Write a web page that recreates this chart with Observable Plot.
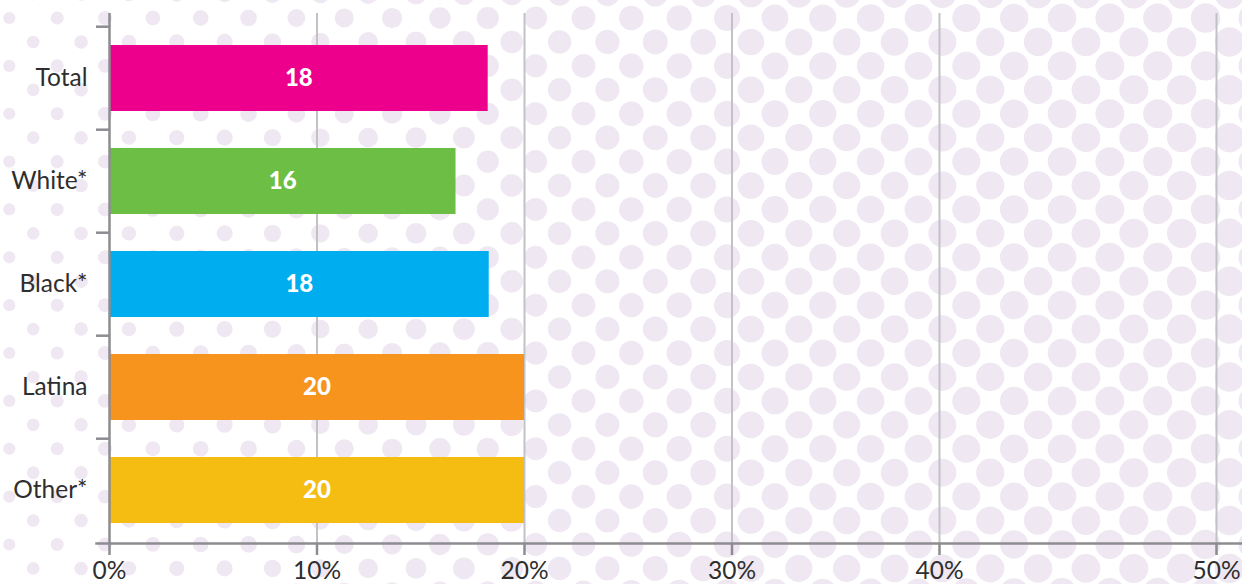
<!DOCTYPE html>
<html>
<head>
<meta charset="utf-8">
<script src="https://cdn.jsdelivr.net/npm/d3@7"></script>
<script src="https://cdn.jsdelivr.net/npm/@observablehq/plot@0.6"></script>
<style>
  html, body { margin: 0; padding: 0; background: #ffffff; }
  #wrap { position: relative; width: 1242px; height: 584px; overflow: hidden; }
  #wrap svg { position: absolute; left: 0; top: 0; }
</style>
</head>
<body>
<div id="wrap"></div>
<script>
// ---- data ----
const categories = ["Total", "White*", "Black*", "Latina", "Other*"];
const values = [18.25, 16.7, 18.3, 20, 20];
const valueLabels = ["18", "16", "18", "20", "20"];
const colors = ["#ec008c", "#6cbe45", "#00aeef", "#f7941d", "#f5bc12"];
const xTicks = [0, 10, 20, 30, 40, 50];

const data = categories.map((c, i) => ({cat: c, value: values[i], label: valueLabels[i]}));

const W = 1242, H = 584;
const wrap = document.getElementById("wrap");

// ---- decorative dot background ----
const bg = d3.create("svg").attr("width", W).attr("height", H);
const rScale = d3.scaleLinear().domain([0, 220, 440, 780, 1242]).range([6, 8, 10.7, 13.5, 14.8]).clamp(true);
const dx = 47.85, dyRow = 23.93;
const dots = [];
for (let k = -1; k < 26; k++) {
  for (let j = -1; j < 28; j++) {
    const x = 9.3 + dx * j + (Math.abs(k) % 2 === 1 ? dx / 2 : 0);
    const y = 18 + dyRow * k;
    dots.push([x, y]);
  }
}
bg.selectAll("circle").data(dots).join("circle")
  .attr("cx", d => d[0]).attr("cy", d => d[1])
  .attr("r", d => rScale(d[0]))
  .attr("fill", "#efe7f1");
wrap.appendChild(bg.node());

// ---- chart ----
const axisGray = "#8d8c91";
const gridGray = "#c2c1c6";
const textColor = "#2e2e2e";
const yRange = [25, 543];
const step = (yRange[1] - yRange[0]) / categories.length;
const pad = 0.355;
// the last interval of the original axis (40% to 50%) is drawn wider than the others
const stretch = 277 / 207.5;
const xTransform = v => (v <= 40 ? v : 40 + (v - 40) * stretch);
const frameH = yRange[1] - yRange[0];

const chart = Plot.plot({
  width: W,
  height: H,
  marginTop: 25,
  marginBottom: 41,
  marginLeft: 109,
  marginRight: 26,
  style: {background: "transparent", fontFamily: "Lato, 'Open Sans', sans-serif", fontSize: "24px", color: textColor},
  x: {type: "linear", transform: xTransform, domain: [0, xTransform(50)], range: [109, 1216], axis: null},
  y: {domain: categories, range: yRange, paddingInner: pad, paddingOuter: pad / 2},
  color: {domain: categories, range: colors},
  marks: [
    // gridlines
    Plot.ruleX(xTicks.slice(1), {x: d => d, stroke: gridGray, strokeWidth: 2, insetTop: -12}),
    // bars and value labels
    Plot.barX(data, {x1: 0, x2: "value", y: "cat", fill: "cat"}),
    Plot.text(data, {x: d => d.value / 2, y: "cat", text: "label", fill: "white", fontWeight: 900, fontSize: 24}),
    // y axis line and band-boundary ticks
    Plot.ruleX([0], {x: d => d, stroke: axisGray, strokeWidth: 2.5, insetTop: -12}),
    Plot.ruleY(categories, {y: d => d, x1: 0, x2: 0, insetLeft: -13, dy: -step / 2, stroke: axisGray, strokeWidth: 2.5}),
    // x axis line, ticks and labels
    Plot.frame({anchor: "bottom", insetLeft: -13, insetRight: -26, stroke: axisGray, strokeWidth: 2.5}),
    Plot.ruleX(xTicks, {x: d => d, insetTop: frameH, insetBottom: -12, stroke: axisGray, strokeWidth: 2.5}),
    Plot.text(xTicks, {x: d => d, text: d => d + "%", frameAnchor: "bottom", lineAnchor: "top", dy: 18, fill: textColor, fontSize: 24.5}),
    Plot.axisY({tickSize: 0, tickPadding: 22, fill: textColor, fontSize: 24.5, label: null})
  ]
});
wrap.appendChild(chart);
</script>
</body>
</html>
